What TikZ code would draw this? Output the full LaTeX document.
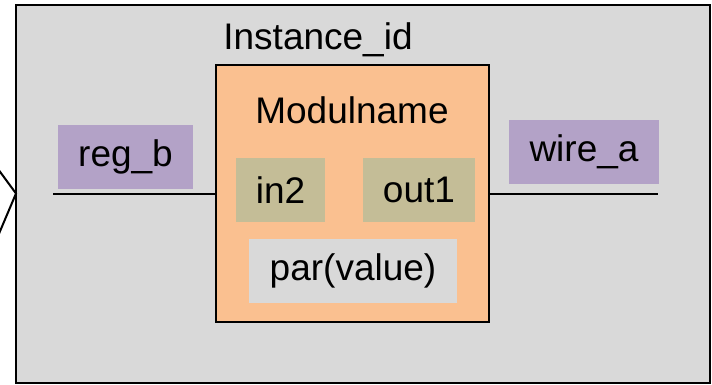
\documentclass[tikz,border=0pt]{standalone}
\usepackage{fontspec}
\setmainfont{Liberation Sans}
\usepackage{tikz}
\usetikzlibrary{positioning}
\definecolor{vgray}{HTML}{D9D9D9}
\definecolor{vpeach}{HTML}{FAC090}
\definecolor{vport}{HTML}{C4BD97}
\definecolor{vsig}{HTML}{B3A2C7}
\tikzset{
  instbox/.style={draw=black, fill=vgray, line width=2pt, inner sep=0pt},
  modbox/.style={draw=black, fill=vpeach, line width=2pt, inner sep=0pt},
  portbox/.style={fill=vport, inner sep=0pt, minimum height=64pt},
  sigbox/.style={fill=vsig, inner sep=0pt, minimum height=64pt},
  parbox/.style={fill=vgray, inner sep=0pt, minimum height=64pt},
  wire/.style={line width=2pt, black},
}

\begin{document}
\begin{tikzpicture}[x=1pt, y=-1pt, every node/.style={font=\fontsize{37}{40}\selectfont}]
  \useasboundingbox (0,0) rectangle (712,385);
  \node[instbox, minimum width=694pt, minimum height=378pt] (inst) at (363,194) {};
  \node (instlbl) at (318,40) {Instance\_id};
  \node[modbox, minimum width=273pt, minimum height=257pt] (mod) at (352.5,193.5) {};
  \node (modlbl) at (352,110) {Modulname};
  \node[portbox, minimum width=89pt] (in2) at (280.5,190) {in2};
  \node[portbox, minimum width=112pt] (out1) at (419,190) {out1};
  \node[parbox, minimum width=208pt] (par) at (353,271) {par(value)};
  \node[sigbox, minimum width=135pt] (regb) at (125.5,157) {reg\_b};
  \node[sigbox, minimum width=150pt] (wirea) at (584,152) {wire\_a};

  \coordinate (lend) at (53,193.5);
  \coordinate (rend) at (658,193.5);
  \draw[wire] (lend) -- (mod.west);
  \draw[wire] (mod.east) -- (rend);

  % partly hidden shape at the left edge
  \coordinate (chtop) at (-2,169);
  \coordinate (chtip) at (16,193.5);
  \coordinate (chbot) at (-2,236);
  \draw[wire] (chtop) -- (chtip) -- (chbot);
\end{tikzpicture}
\end{document}
